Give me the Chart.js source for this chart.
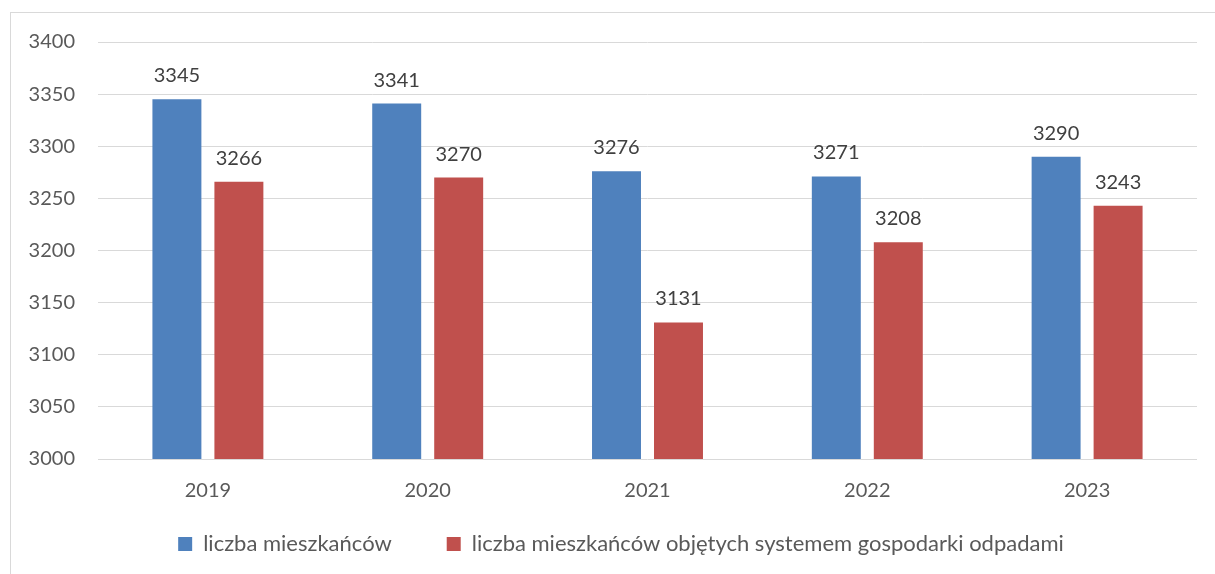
<!DOCTYPE html>
<html>
<head>
<meta charset="utf-8">
<script src="https://cdn.jsdelivr.net/npm/chart.js@4"></script>
<style>
  html, body { margin: 0; padding: 0; background: #fff; overflow: hidden; }
  #wrap {
    position: absolute; left: 10px; top: 12px;
    width: 1222px; height: 600px;
    border: 1px solid #d9d9d9;
  }
  canvas { display: block; }
</style>
</head>
<body>
<div id="wrap"><canvas id="barChart" width="1222" height="593"></canvas></div>
<script>
// chart data
const years = ["2019", "2020", "2021", "2022", "2023"];
const residents = [3345, 3341, 3276, 3271, 3290];
const residentsInSystem = [3266, 3270, 3131, 3208, 3243];
const seriesNames = [
  "liczba mieszkańców",
  "liczba mieszkańców objętych systemem gospodarki odpadami",
];

const FONT = "Lato, 'Open Sans', sans-serif";

// draws the value above every bar (no datalabels plugin offline)
const valueLabels = {
  id: "valueLabels",
  afterDatasetsDraw(chart) {
    const ctx = chart.ctx;
    ctx.save();
    ctx.font = "20px " + FONT;
    ctx.fillStyle = "#404040";
    ctx.textAlign = "center";
    ctx.textBaseline = "alphabetic";
    chart.data.datasets.forEach((ds, i) => {
      chart.getDatasetMeta(i).data.forEach((bar, j) => {
        ctx.fillText(String(ds.data[j]), bar.x, bar.y - 17);
      });
    });
    ctx.restore();
  },
};

// nudge the legend closer to the axis labels, Excel style
const legendShift = {
  id: "legendShift",
  afterLayout(chart) {
    const lg = chart.legend;
    if (!lg) return;
    lg.top -= 31;
    lg.bottom -= 31;
    lg.left += 10;
    lg.right += 10;
  },
};

const ctx = document.getElementById("barChart").getContext("2d");
new Chart(ctx, {
  type: "bar",
  data: {
    labels: years,
    datasets: [
      {
        label: seriesNames[0],
        data: residents,
        backgroundColor: "#4f81bd",
        categoryPercentage: 0.564,
        barPercentage: 0.79,
      },
      {
        label: seriesNames[1],
        data: residentsInSystem,
        backgroundColor: "#c0504d",
        categoryPercentage: 0.564,
        barPercentage: 0.79,
      },
    ],
  },
  options: {
    responsive: false,
    animation: false,
    devicePixelRatio: 1,
    layout: { padding: { left: 14, right: 36, top: 29, bottom: 10 } },
    scales: {
      x: {
        grid: { display: false, drawTicks: false },
        border: { display: false },
        ticks: { color: "#595959", font: { family: FONT, size: 20 }, padding: 20 },
        afterFit: (scale) => { scale.height = 50; },
      },
      y: {
        min: 3000,
        max: 3400,
        grid: { color: "#d9d9d9", lineWidth: 1, drawTicks: false },
        border: { display: false },
        ticks: {
          stepSize: 50,
          color: "#595959",
          font: { family: FONT, size: 20 },
          padding: 23,
          callback: (value) => String(value),
        },
        afterFit: (scale) => {
          scale.width = 73;
          scale.paddingTop = 0;
          scale.paddingBottom = 0;
        },
      },
    },
    plugins: {
      tooltip: { enabled: false },
      legend: {
        position: "bottom",
        labels: {
          boxWidth: 14,
          boxHeight: 14,
          padding: 55,
          color: "#595959",
          font: { family: FONT, size: 22 },
        },
      },
    },
  },
  plugins: [valueLabels, legendShift],
});
</script>
</body>
</html>
